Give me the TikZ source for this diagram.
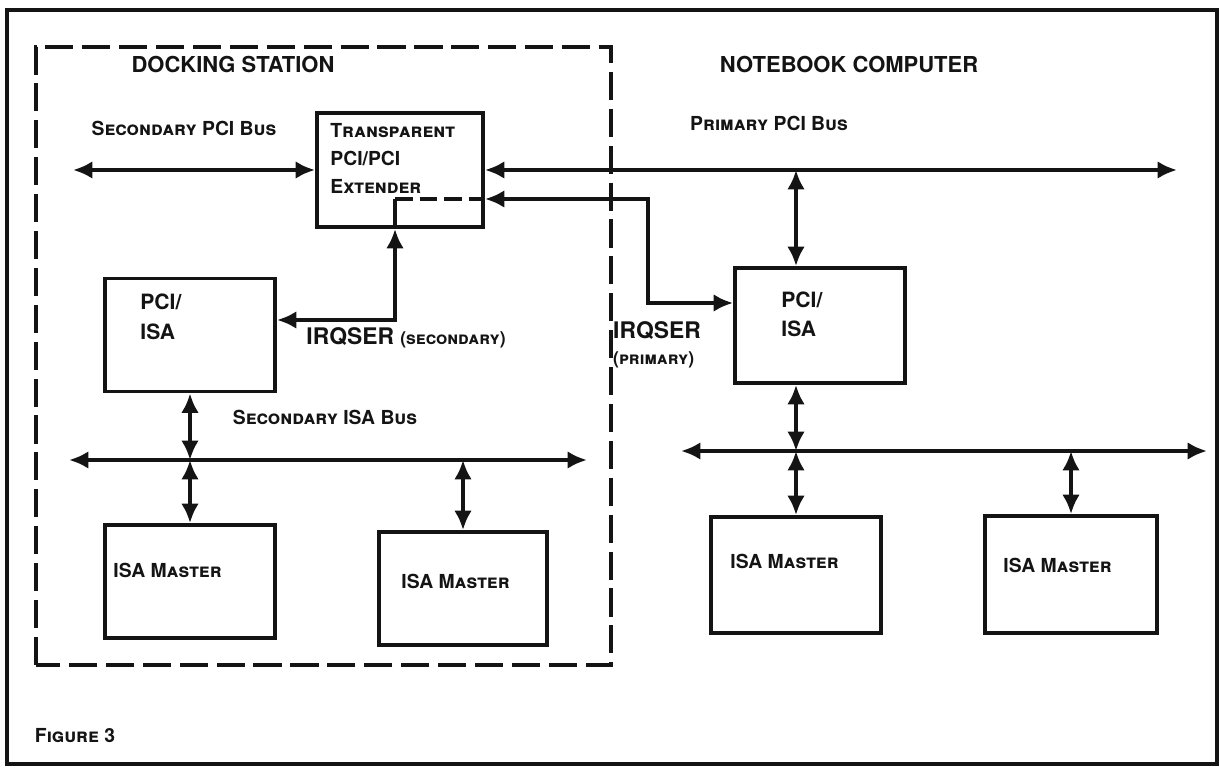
\documentclass[tikz,border=0pt]{standalone}
\usepackage{fontspec}
\setmainfont{TeX Gyre Heros}
\usetikzlibrary{arrows.meta,positioning}
\definecolor{Ink}{HTML}{141414}

\begin{document}
\begin{tikzpicture}[
    >={Latex[length=11pt,width=10pt]},
    blk/.style={draw=Ink,line width=2.2pt,minimum width=3.4cm,minimum height=2.26cm},
    lbl/.style={inner sep=0pt,align=left,text=Ink,font=\bfseries\fontsize{11}{16}\selectfont},
    ttl/.style={text=Ink,font=\bfseries\fontsize{12.5}{14}\selectfont},
    arr/.style={line width=2.2pt,draw=Ink},
    edge/.style={draw=Ink,line width=2.4pt,dash pattern=on 16pt off 5pt}
  ]
    \useasboundingbox (0,0) rectangle (24.4,15.36);
    \draw[arr] (0.14,0.08) rectangle (24.34,15.16);
    \draw[edge] (0.72,2.06) rectangle (12.22,14.42);

    \node[blk,minimum width=3.32cm,minimum height=2.28cm] (ext) at (8.0,11.96) {};
    \node[blk] (pciL) at (3.8,8.66) {};
    \node[blk,minimum height=2.3cm] (pciR) at (16.4,8.85) {};
    \node[blk] (isaL1) at (3.8,3.73) {};
    \node[blk,minimum width=3.36cm] (isaL2) at (9.26,3.59) {};
    \node[blk,minimum height=2.32cm] (isaR1) at (15.92,3.86) {};
    \node[blk,minimum width=3.44cm,minimum height=2.34cm] (isaR2) at (21.42,3.87) {};

    \node[lbl,below right=0.24cm and 0.3cm of ext.north west] (extT) {\textsc{Transparent}\\PCI/PCI\\\textsc{Extender}};
    \node[lbl,font=\bfseries\fontsize{12}{17}\selectfont,below right=0.34cm and 0.74cm of pciL.north west] (pciLT) {PCI/\\ISA};
    \node[lbl,font=\bfseries\fontsize{12}{17}\selectfont,below right=0.5cm and 0.96cm of pciR.north west] (pciRT) {PCI/\\ISA};
    \node[lbl,below right=0.8cm and 0.2cm of isaL1.north west] (isaL1T) {ISA \textsc{Master}};
    \node[lbl,below right=0.88cm and 0.48cm of isaL2.north west] (isaL2T) {ISA \textsc{Master}};
    \node[lbl,below right=0.78cm and 0.42cm of isaR1.north west] (isaR1T) {ISA \textsc{Master}};
    \node[lbl,below right=0.88cm and 0.4cm of isaR2.north west] (isaR2T) {ISA \textsc{Master}};

    \coordinate (spL) at (1.46,11.96);
    \coordinate (ppR) at (23.54,11.96);
    \coordinate (irqP) at (12.96,9.3);
    \coordinate (irqS) at (7.9,8.96);
    \coordinate (irqI) at (7.9,11.38);
    \coordinate (sbL) at (1.38,6.16);
    \coordinate (sbR) at (11.74,6.16);
    \coordinate (pbL) at (13.62,6.34);
    \coordinate (pbR) at (24.14,6.34);

    \draw[arr,<->] (spL) -- (ext.west);
    \draw[arr,<->] (ext.east) -- (ppR);
    \draw[arr,<->] (ppR -| isaR1.north) -- (pciR.north -| isaR1.north);
    \draw[arr,<->] (irqI -| ext.east) -| (irqP) -- (irqP -| pciR.west);
    \draw[arr,<->] (irqS -| pciL.east) -- (irqS) -- (irqS |- ext.south);
    \draw[arr] (irqS |- ext.south) -- (irqI);
    \draw[arr,dash pattern=on 10pt off 4pt] (irqI) -- (irqI -| ext.east);

    \draw[arr,<->] (sbL) -- (sbR);
    \draw[arr,<->] (pciL.south) -- (pciL.south |- sbL);
    \draw[arr,<->] (isaL1.north |- sbL) -- (isaL1.north);
    \draw[arr,<->] (isaL2.north |- sbL) -- (isaL2.north);
    \draw[arr,<->] (pbL) -- (pbR);
    \draw[arr,<->] (pciR.south -| isaR1.north) -- (isaR1.north |- pbL);
    \draw[arr,<->] (isaR1.north |- pbL) -- (isaR1.north);
    \draw[arr,<->] (isaR2.north |- pbL) -- (isaR2.north);

    \node[ttl] (dockT) at (4.66,14.06) {DOCKING STATION};
    \node[ttl] (nbT) at (16.98,14.06) {NOTEBOOK COMPUTER};
    \node[lbl] (spT) at (3.68,12.8) {\textsc{Secondary} PCI \textsc{Bus}};
    \node[lbl] (ppT) at (15.38,12.9) {\textsc{Primary} PCI \textsc{Bus}};
    \node[lbl] (sbT) at (6.5,7.02) {\textsc{Secondary} ISA \textsc{Bus}};
    \node[lbl,font=\bfseries\fontsize{13}{15}\selectfont] (irqST) at (8.12,8.6) {IRQSER {\fontsize{10}{12}\selectfont\textsc{(secondary)}}};
    \node[lbl,font=\bfseries\fontsize{13}{15}\selectfont] (irqPT) at (13.14,8.46) {IRQSER\\{\fontsize{10}{12}\selectfont\textsc{(primary)}}};
    \node[lbl] (figT) at (1.5,0.64) {\textsc{Figure} 3};
  \end{tikzpicture}
\end{document}
